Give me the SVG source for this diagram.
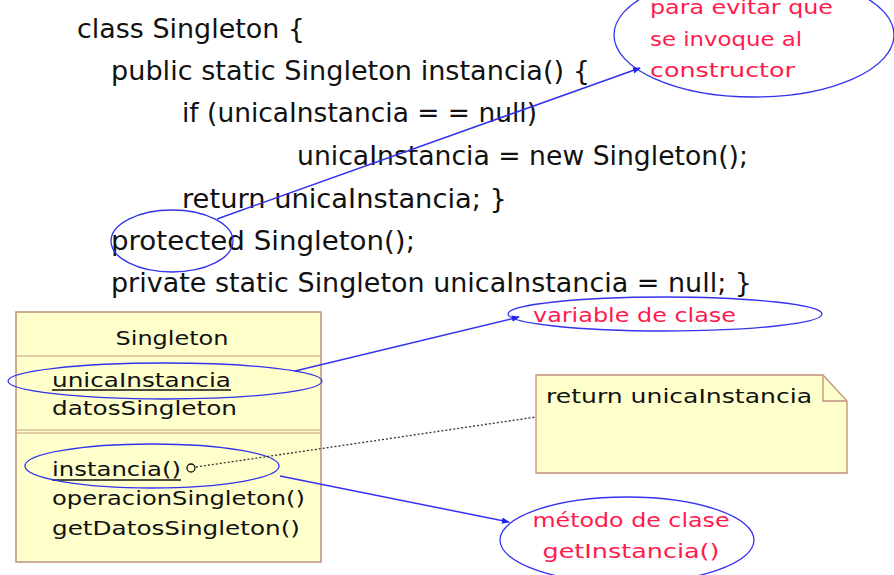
<svg xmlns="http://www.w3.org/2000/svg" width="894" height="575" viewBox="0 0 894 575">
<style>
.code{font-family:"DejaVu Sans",sans-serif;font-size:26px;fill:#111}
.uml{font-family:"DejaVu Sans",sans-serif;font-size:20px;fill:#111}
.red{font-family:"DejaVu Sans",sans-serif;font-size:20px;fill:#ff1a4d}
.ell{fill:none;stroke:#3333ee;stroke-width:1.3}
.conn{fill:none;stroke:#3333ee;stroke-width:1.5}
.sep{stroke:#c8a080;stroke-width:1.2}
</style>
<defs>
<marker id="ah" viewBox="0 0 10 10" refX="9" refY="5" markerWidth="8" markerHeight="8" orient="auto" markerUnits="userSpaceOnUse">
<path d="M0,1 L10,5 L0,9 z" fill="#2222ee"/>
</marker>
</defs>
<rect width="894" height="575" fill="#fff"/>
<g id="code">
<text class="code" x="77" y="38" textLength="228" lengthAdjust="spacingAndGlyphs">class Singleton {</text>
<text class="code" x="111" y="80" textLength="479" lengthAdjust="spacingAndGlyphs">public static Singleton instancia() {</text>
<text class="code" x="182" y="122" textLength="355" lengthAdjust="spacingAndGlyphs">if (unicaInstancia = = null)</text>
<text class="code" x="297" y="165" textLength="451" lengthAdjust="spacingAndGlyphs">unicaInstancia = new Singleton();</text>
<text class="code" x="182" y="208" textLength="325" lengthAdjust="spacingAndGlyphs">return unicaInstancia; }</text>
<text class="code" x="111" y="250" textLength="304" lengthAdjust="spacingAndGlyphs">protected Singleton();</text>
<text class="code" x="111" y="292" textLength="641" lengthAdjust="spacingAndGlyphs">private static Singleton unicaInstancia = null; }</text>
</g>
<g id="singleton-class">
<rect x="16" y="312" width="305" height="250" fill="#ffffcc" stroke="#c09080" stroke-width="1.5"/>
<line class="sep" x1="16" y1="356" x2="321" y2="356"/>
<line class="sep" x1="16" y1="430" x2="321" y2="430"/>
<line class="sep" x1="16" y1="433" x2="321" y2="433"/>
<text class="uml" x="172" y="345" text-anchor="middle" textLength="113" lengthAdjust="spacingAndGlyphs">Singleton</text>
<text class="uml" x="52" y="387" textLength="179" lengthAdjust="spacingAndGlyphs">unicaInstancia</text>
<line x1="52" y1="390" x2="231" y2="390" stroke="#111" stroke-width="1.3"/>
<text class="uml" x="52" y="415" textLength="185" lengthAdjust="spacingAndGlyphs">datosSingleton</text>
<text class="uml" x="52" y="476" textLength="129" lengthAdjust="spacingAndGlyphs">instancia()</text>
<line x1="52" y1="480" x2="181" y2="480" stroke="#111" stroke-width="1.3"/>
<circle cx="191" cy="468" r="4" fill="none" stroke="#111" stroke-width="1.3"/>
<text class="uml" x="52" y="505" textLength="253" lengthAdjust="spacingAndGlyphs">operacionSingleton()</text>
<text class="uml" x="52" y="535" textLength="248" lengthAdjust="spacingAndGlyphs">getDatosSingleton()</text>
</g>
<g id="note">
<path d="M536,375 H823 L847,401 V473 H536 Z" fill="#ffffcc" stroke="#c09080" stroke-width="1.3"/>
<path d="M823,375 V401 H847" fill="none" stroke="#c09080" stroke-width="1.3"/>
<text class="uml" x="546" y="403" textLength="266" lengthAdjust="spacingAndGlyphs">return unicaInstancia</text>
</g>
<g id="callout-constructor">
<ellipse class="ell" cx="754" cy="35" rx="140" ry="62"/>
<text class="red" x="650" y="14" textLength="183" lengthAdjust="spacingAndGlyphs">para evitar que</text>
<text class="red" x="650" y="46" textLength="152" lengthAdjust="spacingAndGlyphs">se invoque al</text>
<text class="red" x="650" y="77" textLength="145" lengthAdjust="spacingAndGlyphs">constructor</text>
</g>
<g id="callout-variable">
<ellipse class="ell" cx="665" cy="314" rx="157" ry="17"/>
<text class="red" x="533" y="322" textLength="203" lengthAdjust="spacingAndGlyphs">variable de clase</text>
</g>
<g id="callout-metodo">
<ellipse class="ell" cx="627" cy="540" rx="127" ry="43"/>
<text class="red" x="631" y="527" text-anchor="middle" textLength="197" lengthAdjust="spacingAndGlyphs">método de clase</text>
<text class="red" x="631" y="558" text-anchor="middle" textLength="177" lengthAdjust="spacingAndGlyphs">getInstancia()</text>
</g>
<g id="highlights">
<ellipse class="ell" cx="172" cy="241" rx="61" ry="31"/>
<ellipse class="ell" cx="165" cy="381" rx="157" ry="18"/>
<ellipse class="ell" cx="152" cy="466" rx="127" ry="22"/>
</g>
<g id="connectors">
<line class="conn" x1="217" y1="219" x2="640" y2="68" marker-end="url(#ah)"/>
<line class="conn" x1="295" y1="371" x2="519" y2="317" marker-end="url(#ah)"/>
<line class="conn" x1="280" y1="476" x2="509" y2="522" marker-end="url(#ah)"/>
<line x1="196" y1="467" x2="536" y2="417" stroke="#333" stroke-width="1.3" stroke-dasharray="2,2"/>
</g>
</svg>
